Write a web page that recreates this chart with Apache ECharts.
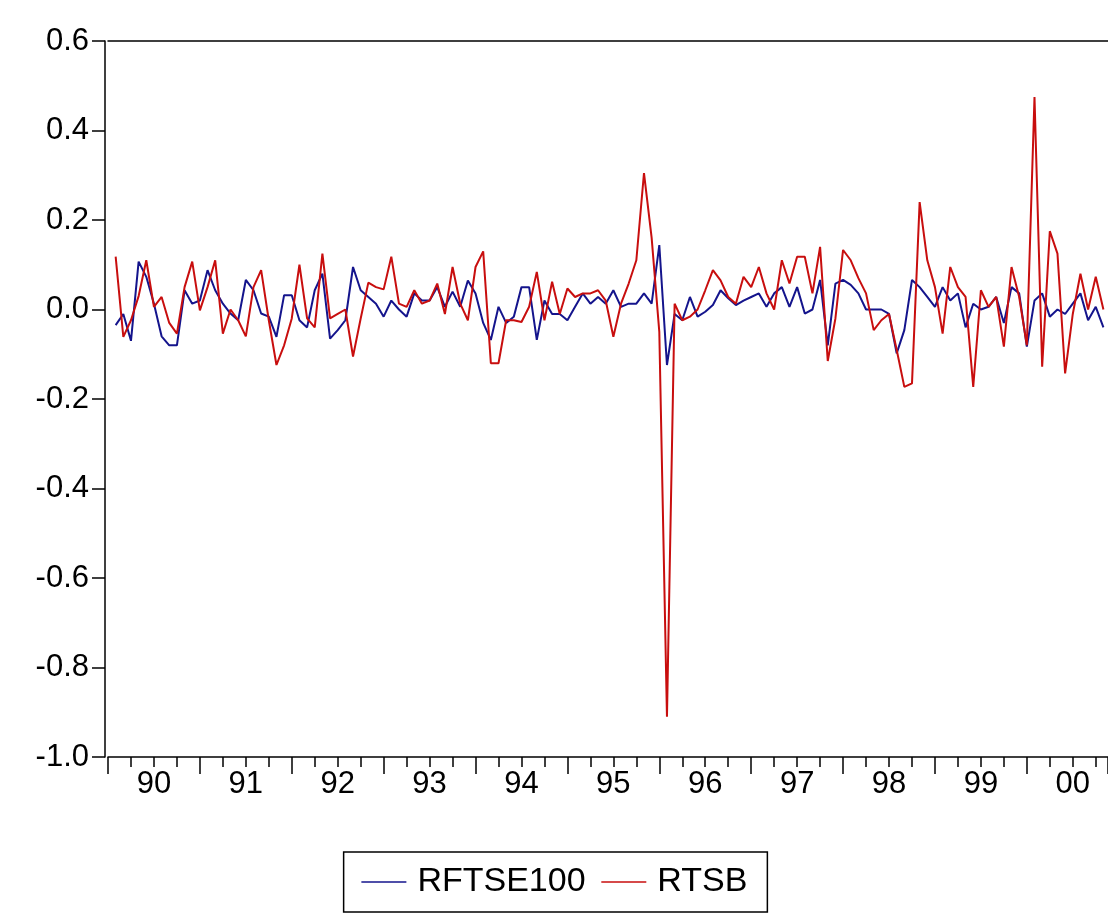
<!DOCTYPE html>
<html>
<head>
<meta charset="utf-8">
<title>RFTSE100 / RTSB</title>
<script src="https://cdn.jsdelivr.net/npm/echarts@6/dist/echarts.min.js"></script>
<style>
  html, body { margin: 0; padding: 0; background: #fff; }
  #chart { width: 1108px; height: 920px; }
</style>
</head>
<body>
<div id="chart"></div>
<script>
// monthly returns, 1990M02 .. 2000M11 (one line per year)
const firstMonth = 1 // months after 1990M01
const rftse100 = [
  -0.035, -0.01, -0.07, 0.107, 0.073, 0.013, -0.06, -0.08, -0.08, 0.043, 0.013,
  0.02, 0.088, 0.043, 0.013, -0.009, -0.024, 0.066, 0.043, -0.009, -0.016, -0.061, 0.032,
  0.032, -0.024, -0.04, 0.043, 0.08, -0.065, -0.046, -0.024, 0.095, 0.043, 0.028, 0.013,
  -0.016, 0.02, 0.0, -0.016, 0.036, 0.02, 0.02, 0.05, 0.006, 0.04, 0.006, 0.065,
  0.036, -0.03, -0.068, 0.006, -0.03, -0.016, 0.05, 0.05, -0.068, 0.02, -0.01, -0.01,
  -0.024, 0.006, 0.036, 0.013, 0.028, 0.013, 0.043, 0.006, 0.013, 0.013, 0.036, 0.013,
  0.144, -0.124, -0.01, -0.024, 0.028, -0.016, -0.005, 0.01, 0.043, 0.025, 0.01, 0.02,
  0.028, 0.036, 0.006, 0.036, 0.05, 0.006, 0.05, -0.009, 0.0, 0.066, -0.08, 0.058,
  0.066, 0.055, 0.036, 0.0, 0.0, 0.0, -0.01, -0.098, -0.046, 0.066, 0.05, 0.028,
  0.006, 0.05, 0.02, 0.036, -0.04, 0.013, 0.0, 0.006, 0.028, -0.03, 0.05, 0.036,
  -0.083, 0.02, 0.036, -0.016, 0.0, -0.01, 0.013, 0.036, -0.024, 0.006, -0.04
]
const rtsb = [
  0.118, -0.061, -0.024, 0.03, 0.11, 0.006, 0.028, -0.03, -0.054, 0.05, 0.107,
  -0.002, 0.05, 0.11, -0.054, 0.0, -0.024, -0.06, 0.05, 0.088, -0.024, -0.124, -0.08,
  -0.02, 0.10, -0.02, -0.04, 0.125, -0.02, -0.01, 0.0, -0.105, -0.02, 0.06, 0.05,
  0.045, 0.118, 0.013, 0.006, 0.043, 0.013, 0.02, 0.058, -0.01, 0.095, 0.013, -0.024,
  0.095, 0.13, -0.12, -0.12, -0.024, -0.024, -0.028, 0.006, 0.084, -0.024, 0.062, -0.01,
  0.047, 0.028, 0.036, 0.036, 0.043, 0.02, -0.061, 0.013, 0.058, 0.11, 0.305, 0.16,
  -0.05, -0.91, 0.013, -0.024, -0.016, 0.0, 0.043, 0.088, 0.065, 0.028, 0.013, 0.073,
  0.05, 0.095, 0.036, 0.0, 0.11, 0.058, 0.118, 0.118, 0.036, 0.14, -0.115, -0.02,
  0.133, 0.11, 0.07, 0.036, -0.046, -0.024, -0.01, -0.09, -0.173, -0.165, 0.24, 0.11,
  0.05, -0.054, 0.095, 0.05, 0.028, -0.173, 0.043, 0.006, 0.028, -0.083, 0.095, 0.028,
  -0.08, 0.475, -0.128, 0.175, 0.125, -0.143, -0.01, 0.08, 0.0, 0.073, 0.0
]
const yearLabels = ['90', '91', '92', '93', '94', '95', '96', '97', '98', '99', '00']

const font = 'Liberation Sans, Arial, sans-serif'
const toPairs = arr => arr.map((v, k) => [k + firstMonth, v])
// year labels sit in the middle of each year
const labelPos = yearLabels.map((s, k) => k * 12 + 6)

const chart = echarts.init(document.getElementById('chart'), null, { renderer: 'canvas' })
const option = {
  animation: false,
  backgroundColor: '#fff',
  grid: { left: 108, right: 0, top: 41, bottom: 163 },
  xAxis: [
    {
      type: 'value',
      position: 'bottom',
      min: 0,
      max: 130.6,
      interval: 12,
      axisLine: { show: true, onZero: false, lineStyle: { color: '#000', width: 1.5 } },
      axisTick: { show: true, length: 17, lineStyle: { color: '#000', width: 1.5 } },
      minorTick: { show: true, splitNumber: 4, length: 10, lineStyle: { color: '#000', width: 1.5 } },
      splitLine: { show: false },
      axisLabel: {
        customValues: labelPos,
        formatter: v => yearLabels[Math.round((v - 6) / 12)],
        color: '#000',
        fontFamily: font,
        fontSize: 31,
        margin: 12
      }
    },
    {
      // top frame line
      type: 'value',
      position: 'top',
      min: 0,
      max: 130.6,
      axisLine: { show: true, onZero: false, lineStyle: { color: '#000', width: 1.5 } },
      axisTick: { show: false },
      axisLabel: { show: false },
      splitLine: { show: false }
    }
  ],
  yAxis: {
    type: 'value',
    min: -1,
    max: 0.6,
    interval: 0.2,
    offset: 3,
    axisLine: { show: true, onZero: false, lineStyle: { color: '#000', width: 1.5 } },
    axisTick: { show: true, length: 13, lineStyle: { color: '#000', width: 1.5 } },
    splitLine: { show: false },
    axisLabel: {
      formatter: v => v.toFixed(1),
      color: '#000',
      fontFamily: font,
      fontSize: 31,
      margin: 16
    }
  },
  legend: {
    top: 852,
    left: 'center',
    orient: 'horizontal',
    borderColor: '#000',
    borderWidth: 1.5,
    padding: [13, 20, 13, 17],
    itemWidth: 45,
    itemHeight: 14,
    itemGap: 15,
    itemStyle: { opacity: 0 },
    lineStyle: { width: 1.5 },
    textStyle: { color: '#000', fontFamily: font, fontSize: 34, padding: [0, 0, 0, 6] },
    data: ['RFTSE100', 'RTSB']
  },
  series: [
    {
      name: 'RFTSE100',
      type: 'line',
      symbol: 'none',
      lineStyle: { color: '#14148c', width: 2 },
      itemStyle: { color: '#14148c' },
      data: toPairs(rftse100)
    },
    {
      name: 'RTSB',
      type: 'line',
      symbol: 'none',
      lineStyle: { color: '#c80e0e', width: 2 },
      itemStyle: { color: '#c80e0e' },
      data: toPairs(rtsb)
    }
  ]
}
chart.setOption(option)
</script>
</body>
</html>
